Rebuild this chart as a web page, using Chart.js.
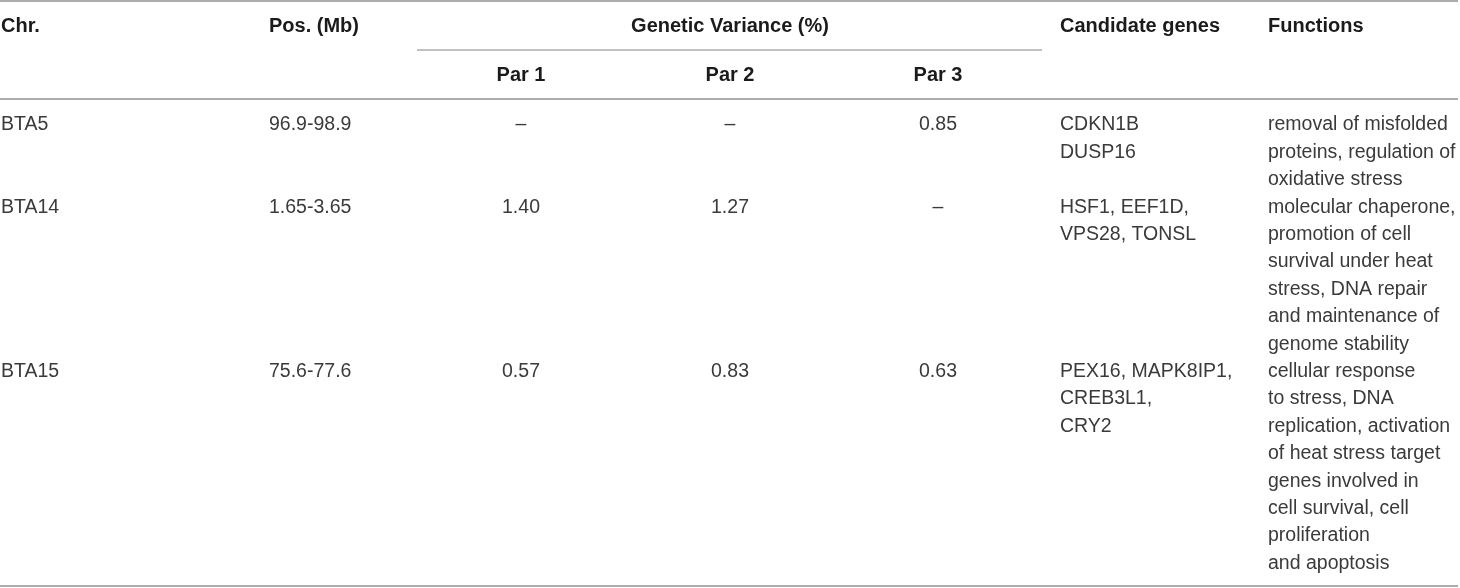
<!DOCTYPE html>
<html>
<head>
<meta charset="utf-8">
<script src="https://cdn.jsdelivr.net/npm/chart.js@4/dist/chart.umd.min.js"></script>
<style>
  html, body { margin: 0; padding: 0; background: #fff; }
  #wrap { width: 1460px; height: 588px; position: relative; }
</style>
</head>
<body>
<div id="wrap"><canvas id="tbl"></canvas></div>
<script>
// table content
const headerTop = ["Chr.", "Pos. (Mb)", "Genetic Variance (%)", "Candidate genes", "Functions"];
const headerSub = ["Par 1", "Par 2", "Par 3"];
const chromosomes = ["BTA5", "BTA14", "BTA15"];
const positions = ["96.9-98.9", "1.65-3.65", "75.6-77.6"];
const par1 = ["–", "1.40", "0.57"];
const par2 = ["–", "1.27", "0.83"];
const par3 = ["0.85", "–", "0.63"];
const genes = [
    ["CDKN1B", "DUSP16"],
    ["HSF1, EEF1D,", "VPS28, TONSL"],
    ["PEX16, MAPK8IP1,", "CREB3L1,", "CRY2"]
];
const functions = [
    ["removal of misfolded", "proteins, regulation of", "oxidative stress"],
    ["molecular chaperone,", "promotion of cell", "survival under heat", "stress, DNA repair", "and maintenance of", "genome stability"],
    ["cellular response", "to stress, DNA", "replication, activation", "of heat stress target", "genes involved in", "cell survival, cell", "proliferation", "and apoptosis"]
];

// layout (pixel units of the scales)
const W = 1460, H = 588;
const colX = { chr: 1, pos: 269, par1: 521, par2: 730, par3: 938, genes: 1060, func: 1268 };
const gvCenter = 730;
const headY1 = 26, headY2 = 75;
const firstLineY = 125, lineH = 27.4;
const ruleColor = "#acacac";
const font = "'Liberation Sans', Arial, Helvetica, sans-serif";

// text items -> points
let textPts = [];
function addText(x, y, text, bold, align) {
    textPts.push({ x: x, y: y, text: text, bold: bold, align: align });
}
addText(colX.chr, headY1, headerTop[0], true, "left");
addText(colX.pos, headY1, headerTop[1], true, "left");
addText(gvCenter, headY1, headerTop[2], true, "center");
addText(colX.genes, headY1, headerTop[3], true, "left");
addText(colX.func, headY1, headerTop[4], true, "left");
addText(colX.par1, headY2, headerSub[0], true, "center");
addText(colX.par2, headY2, headerSub[1], true, "center");
addText(colX.par3, headY2, headerSub[2], true, "center");

let lineIdx = 0;
chromosomes.forEach(function (chr, r) {
    let y0 = firstLineY + lineIdx * lineH;
    addText(colX.chr, y0, chr, false, "left");
    addText(colX.pos, y0, positions[r], false, "left");
    addText(colX.par1, y0, par1[r], false, "center");
    addText(colX.par2, y0, par2[r], false, "center");
    addText(colX.par3, y0, par3[r], false, "center");
    genes[r].forEach(function (g, k) {
        addText(colX.genes, y0 + k * lineH, g, false, "left");
    });
    functions[r].forEach(function (f, k) {
        addText(colX.func, y0 + k * lineH, f, false, "left");
    });
    lineIdx += Math.max(genes[r].length, functions[r].length);
});

function rule(x1, x2, y, w) {
    return {
        type: 'line',
        data: [{ x: x1, y: y }, { x: x2, y: y }],
        borderColor: ruleColor,
        borderWidth: w,
        pointRadius: 0,
        clip: false
    };
}

const textPlugin = {
    id: 'cellText',
    afterDatasetsDraw(chart) {
        const ctx = chart.ctx;
        const meta = chart.getDatasetMeta(0);
        ctx.save();
        ctx.textBaseline = "middle";
        meta.data.forEach(function (el, i) {
            const d = chart.data.datasets[0].data[i];
            ctx.font = d.bold ? "bold 20px " + font : "19.5px " + font;
            ctx.fillStyle = d.bold ? "#1b1b1b" : "#3a3a3a";
            ctx.textAlign = d.align;
            ctx.fillText(d.text, el.x, el.y);
        });
        ctx.restore();
    }
};

new Chart(document.getElementById("tbl"), {
    type: 'scatter',
    data: {
        datasets: [
            { data: textPts, pointRadius: 0, pointHoverRadius: 0 },
            rule(0, 1458, 1, 2),
            rule(417, 1042, 50, 1.5),
            rule(0, 1458, 99, 2),
            rule(0, 1458, 586, 2)
        ]
    },
    options: {
        responsive: true,
        maintainAspectRatio: false,
        animation: false,
        events: [],
        layout: { padding: 0 },
        scales: {
            x: { type: 'linear', min: 0, max: W, display: false },
            y: { type: 'linear', min: 0, max: H, reverse: true, display: false }
        },
        plugins: {
            legend: { display: false },
            tooltip: { enabled: false }
        }
    },
    plugins: [textPlugin]
});
</script>
</body>
</html>
